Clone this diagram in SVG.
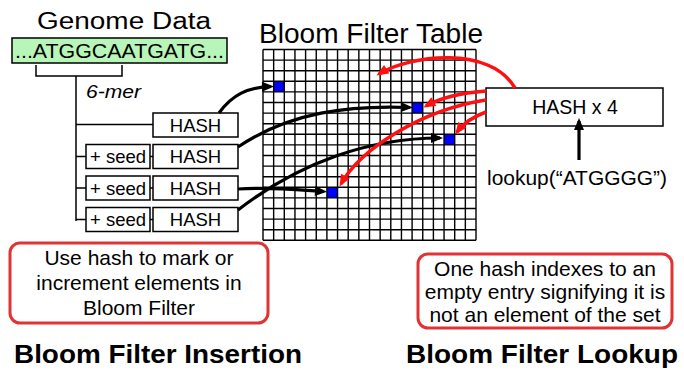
<svg xmlns="http://www.w3.org/2000/svg" width="684" height="371" viewBox="0 0 684 371">
<defs>
<style>
text{font-family:"Liberation Sans",Arial,Helvetica,sans-serif;fill:#000}
.box{fill:#fff;stroke:#000;stroke-width:1.5}
.note{fill:#fff;stroke:#e03434;stroke-width:3}
.ln{fill:none;stroke:#000;stroke-width:1.5}
.blk{fill:none;stroke:#000;stroke-width:3.2}
.red{fill:none;stroke:#ff0f0f;stroke-width:3.5}
.grid{fill:none;stroke:#000;stroke-width:1.4}
.cell{fill:#0000ff}
.t17{font-size:18.5px}
.t19{font-size:21px}
.ttl{font-size:26.5px;font-weight:bold}
</style>
<marker id="ab" viewBox="0 0 12 10" refX="9" refY="5" markerWidth="13" markerHeight="10" markerUnits="userSpaceOnUse" orient="auto"><path d="M0,0 L12,5 L0,10 z" fill="#000"/></marker>
<marker id="ar" viewBox="0 0 12 10" refX="9" refY="5" markerWidth="13" markerHeight="10" markerUnits="userSpaceOnUse" orient="auto"><path d="M0,0 L12,5 L0,10 z" fill="#ff0f0f"/></marker>
</defs>
<rect width="684" height="371" fill="#fff"/>

<g id="genome">
<text x="124" y="29" font-size="23" text-anchor="middle" textLength="174" lengthAdjust="spacingAndGlyphs">Genome Data</text>
<rect x="12" y="38" width="215" height="25" fill="#b8f5b8" stroke="#000" stroke-width="1.5"/>
<text x="119.5" y="58" font-size="21" text-anchor="middle" textLength="209" lengthAdjust="spacingAndGlyphs">...ATGGCAATGATG...</text>
<path class="ln" d="M36,65 V76 H122 V65"/>
<text x="86" y="98" font-size="19" font-style="italic" textLength="55" lengthAdjust="spacingAndGlyphs">6-mer</text>
</g>

<g id="table">
<text x="371" y="43" font-size="27" text-anchor="middle" textLength="224" lengthAdjust="spacingAndGlyphs">Bloom Filter Table</text>
<rect class="cell" x="273.65" y="81.3" width="10.65" height="10.6"/>
<rect class="cell" x="412.1" y="102.5" width="10.65" height="10.6"/>
<rect class="cell" x="444.05" y="134.3" width="10.65" height="10.6"/>
<rect class="cell" x="326.9" y="187.3" width="10.65" height="10.6"/>
<path class="grid" d="M263,49.5V240.3M273.65,49.5V240.3M284.3,49.5V240.3M294.95,49.5V240.3M305.6,49.5V240.3M316.25,49.5V240.3M326.9,49.5V240.3M337.55,49.5V240.3M348.2,49.5V240.3M358.85,49.5V240.3M369.5,49.5V240.3M380.15,49.5V240.3M390.8,49.5V240.3M401.45,49.5V240.3M412.1,49.5V240.3M422.75,49.5V240.3M433.4,49.5V240.3M444.05,49.5V240.3M454.7,49.5V240.3M465.35,49.5V240.3M476,49.5V240.3
M263,49.5H476M263,60.1H476M263,70.7H476M263,81.3H476M263,91.9H476M263,102.5H476M263,113.1H476M263,123.7H476M263,134.3H476M263,144.9H476M263,155.5H476M263,166.1H476M263,176.7H476M263,187.3H476M263,197.9H476M263,208.5H476M263,219.1H476M263,229.7H476M263,240.3H476"/>
</g>

<g id="hash1"><rect class="box" x="153" y="113" width="85" height="24"/><text class="t17" x="195.5" y="131.5" text-anchor="middle">HASH</text></g>
<g id="seed2"><rect class="box" x="86" y="144.5" width="64" height="24"/><text class="t17" x="118" y="163" text-anchor="middle">+ seed</text></g>
<g id="hash2"><rect class="box" x="153" y="144.5" width="85" height="24"/><text class="t17" x="195.5" y="163" text-anchor="middle">HASH</text></g>
<g id="seed3"><rect class="box" x="86" y="176" width="64" height="24"/><text class="t17" x="118" y="194.5" text-anchor="middle">+ seed</text></g>
<g id="hash3"><rect class="box" x="153" y="176" width="85" height="24"/><text class="t17" x="195.5" y="194.5" text-anchor="middle">HASH</text></g>
<g id="seed4"><rect class="box" x="86" y="207.5" width="64" height="24"/><text class="t17" x="118" y="226" text-anchor="middle">+ seed</text></g>
<g id="hash4"><rect class="box" x="153" y="207.5" width="85" height="24"/><text class="t17" x="195.5" y="226" text-anchor="middle">HASH</text></g>

<g id="hashx4"><rect class="box" x="486" y="88" width="177" height="38"/><text x="575" y="114" font-size="19.5" text-anchor="middle">HASH x 4</text></g>
<g id="lookup"><text x="577" y="185" font-size="20" text-anchor="middle" textLength="180" lengthAdjust="spacingAndGlyphs">lookup(“ATGGGG”)</text></g>

<g id="insert-note"><rect class="note" x="10" y="243" width="258" height="80" rx="10"/>
<text class="t19" text-anchor="middle"><tspan x="139" y="265">Use hash to mark or</tspan><tspan x="139" y="290">increment elements in</tspan><tspan x="139" y="315">Bloom Filter</tspan></text></g>
<g id="lookup-note"><rect class="note" x="418" y="254" width="254" height="74" rx="10"/>
<text class="t19" text-anchor="middle"><tspan x="545" y="275.5">One hash indexes to an</tspan><tspan x="545" y="298.5">empty entry signifying it is</tspan><tspan x="545" y="321.5">not an element of the set</tspan></text></g>

<g id="titles">
<text class="ttl" x="14" y="363" textLength="288" lengthAdjust="spacingAndGlyphs">Bloom Filter Insertion</text>
<text class="ttl" x="406" y="363" textLength="272" lengthAdjust="spacingAndGlyphs">Bloom Filter Lookup</text>
</g>

<g id="connectors">
<path class="ln" d="M76,76 V221 M76,124.5 H153 M76,156.5 H86 M76,188 H86 M76,219.5 H86 M150,156.5 H153 M150,188 H153 M150,219.5 H153"/>
<path class="blk" marker-end="url(#ab)" d="M219,113 C232,95 248,87 271,86.5"/>
<path class="blk" marker-end="url(#ab)" d="M238,147 C290,112 350,105 410,107.5"/>
<path class="blk" marker-end="url(#ab)" d="M238,189 C270,187 300,190 324,191.5"/>
<path class="blk" marker-end="url(#ab)" d="M238,210 C300,162 370,138 440,138"/>
<path class="blk" marker-end="url(#ab)" d="M579,160 V121"/>
<path class="red" marker-end="url(#ar)" d="M515,88 C490,45 410,55 379,74"/>
<path class="red" marker-end="url(#ar)" d="M486,91 C460,93 440,98 426,106"/>
<path class="red" marker-end="url(#ar)" d="M486,100 C420,110 360,150 341,184"/>
<path class="red" marker-end="url(#ar)" d="M486,112 C472,117 463,124 457,132"/>
</g>
</svg>
